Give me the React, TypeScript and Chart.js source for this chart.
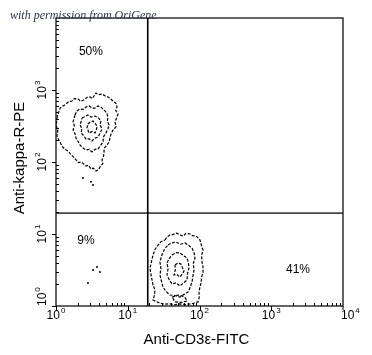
import React, { useEffect, useRef } from 'react';
import { Chart, registerables } from 'chart.js';

Chart.register(...registerables);

// ---- axis / tick data ----
const AXIS_MIN = 1;
const AXIS_MAX = 10000;
const X_DECADES = [1, 10, 100, 1000, 10000];
const X_EXPONENTS = ['0', '1', '2', '3', '4'];
const Y_DECADES = [1, 10, 100, 1000];
const Y_EXPONENTS = ['0', '1', '2', '3'];
const X_TITLE = 'Anti-CD3ε-FITC';
const Y_TITLE = 'Anti-kappa-R-PE';
const WATERMARK = 'with permission from OriGene';

// ---- quadrant gates ----
const GATE_X = 19;
const GATE_Y = 19.5;
const QUADRANT_LABELS = ['50%', '9%', '41%'];
const QUADRANT_LABEL_X = [3.07, 2.62, 2360];
const QUADRANT_LABEL_Y = [3370, 8.0, 3.16];

// ---- contour rings (x, y) in fluorescence units ----
// upper-left population (kappa+ / CD3-)
const UL_RING_1: [number, number][] = [
  [1.03, 408], [1.08, 480], [1.14, 562], [1.25, 600], [1.38, 639], [1.5, 690], [1.67, 703],
  [1.8, 760], [2.03, 750], [2.2, 700], [2.46, 726], [2.7, 790], [2.98, 800], [3.2, 760],
  [3.61, 908], [3.9, 860], [4.38, 880], [4.8, 830], [5.31, 800], [5.7, 760], [6.23, 703],
  [6.9, 650], [7.08, 580], [6.8, 520], [7.31, 464], [7.0, 410], [6.64, 360], [6.9, 310],
  [6.23, 278], [5.9, 250], [5.66, 222], [5.5, 190], [5.14, 172], [4.7, 155], [4.67, 138],
  [4.6, 120], [4.38, 107], [4.5, 95], [4.1, 85], [3.9, 78], [3.61, 75], [3.3, 82], [3.07, 80],
  [2.85, 90], [2.62, 88], [2.4, 95], [2.23, 100], [2.05, 98], [1.9, 107], [1.75, 118],
  [1.62, 125], [1.5, 140], [1.38, 147], [1.25, 160], [1.17, 178], [1.1, 200], [1.03, 230],
  [1.06, 270], [1.01, 320],
];
const UL_RING_2: [number, number][] = [
  [1.84, 449], [1.95, 510], [2.16, 545], [2.4, 540], [2.62, 580], [2.9, 600], [3.17, 562],
  [3.5, 560], [3.85, 600], [4.3, 570], [4.67, 527], [5.1, 480], [5.31, 422], [5.2, 370],
  [5.48, 327], [5.3, 290], [4.97, 253], [4.6, 225], [4.52, 190], [4.2, 170], [3.85, 152],
  [3.5, 150], [3.17, 138], [2.9, 150], [2.62, 147], [2.4, 155], [2.16, 172], [2.05, 190],
  [1.9, 215], [1.85, 245], [1.73, 278], [1.8, 320], [1.73, 360], [1.78, 400],
];
const UL_RING_3: [number, number][] = [
  [2.3, 408], [2.55, 430], [2.79, 449], [3.1, 420], [3.5, 435], [3.9, 410], [4.24, 371],
  [4.1, 330], [4.38, 287], [4.1, 250], [3.85, 222], [3.5, 215], [3.17, 196], [2.9, 210],
  [2.62, 208], [2.45, 230], [2.23, 253], [2.3, 290], [2.16, 327], [2.25, 370],
];
const UL_RING_4: [number, number][] = [
  [2.79, 337], [3.0, 360], [3.28, 371], [3.5, 345], [3.73, 316], [3.65, 280], [3.5, 253],
  [3.2, 265], [2.88, 253], [2.8, 275], [2.7, 297],
];

// lower-right population (CD3+ / kappa-)
const LR_RING_1: [number, number][] = [
  [33.0, 8.25], [35.5, 9.2], [38.8, 9.68], [43, 9.9], [48.6, 10.3], [53, 9.7], [58.9, 9.38],
  [65, 10.2], [73.8, 10.0], [80, 9.5], [89.4, 9.38], [95, 8.9], [101.6, 8.25], [106, 7.0],
  [111.9, 5.99], [107, 5.0], [108.4, 4.08], [112, 3.5], [111.9, 2.97], [107, 2.5], [105, 2.09],
  [101, 1.8], [98.4, 1.52], [99, 1.3], [95.3, 1.14], [85, 1.1], [73.8, 1.07], [63, 1.05],
  [53.5, 1.07], [45, 1.04], [38.8, 1.07], [32, 1.06], [28.1, 1.1], [25, 1.15], [22.5, 1.21],
  [23.5, 1.4], [24.0, 1.67], [22.5, 1.95], [21.8, 2.3], [21, 2.8], [20.4, 3.37], [21.5, 4.2],
  [22.5, 5.11], [24, 6.1], [26.4, 7.03], [29, 7.8],
];
const LR_RING_2: [number, number][] = [
  [36.4, 7.03], [41, 7.5], [47.0, 7.74], [54, 7.2], [62.8, 7.5], [70, 7.0], [78.6, 6.39],
  [84, 5.5], [86.5, 4.64], [82, 3.9], [83.8, 3.16], [81, 2.6], [78.6, 2.15], [74, 1.8],
  [69.2, 1.56], [61, 1.45], [53.5, 1.33], [45, 1.4], [38.8, 1.42], [34, 1.6], [31.0, 1.84],
  [29.5, 2.2], [28.1, 2.7], [29, 3.3], [28.1, 4.08], [29.5, 4.9], [31.0, 5.62], [33.5, 6.4],
];
const LR_RING_3: [number, number][] = [
  [41.4, 5.11], [47, 5.5], [53.5, 5.45], [60, 5.0], [67.0, 4.64], [70, 4.0], [71.4, 3.37],
  [68, 2.8], [67.0, 2.3], [60, 2.1], [53.5, 1.9], [47, 2.1], [41.4, 2.02], [38, 2.3],
  [35.2, 2.7], [36.5, 3.3], [35.2, 3.96], [38, 4.6],
];
const LR_RING_4: [number, number][] = [
  [45.6, 3.71], [50, 3.95], [55.2, 3.83], [58, 3.4], [60.8, 3.06], [57, 2.75], [53.5, 2.53],
  [48, 2.75], [44.2, 2.7], [46, 3.2],
];
const LR_RING_5: [number, number][] = [
  [41.4, 1.33], [50, 1.42], [57.0, 1.38], [63, 1.3], [67.0, 1.17], [55, 1.12], [45.6, 1.14],
];

// isolated events
const EVENTS_X = [2.38, 3.07, 3.28, 3.28, 3.73, 4.1, 2.79];
const EVENTS_Y = [60, 53, 48, 3.16, 3.48, 2.97, 2.09];

const RINGS = [UL_RING_1, UL_RING_2, UL_RING_3, UL_RING_4, LR_RING_1, LR_RING_2, LR_RING_3, LR_RING_4, LR_RING_5];

const SANS = '"Liberation Sans", Arial, Helvetica, sans-serif';

function drawPower(ctx: CanvasRenderingContext2D, exp: string, cx: number, cy: number, rotate: boolean, align: 'center' | 'start' | 'end') {
  ctx.save();
  ctx.translate(cx, cy);
  if (rotate) ctx.rotate(-Math.PI / 2);
  ctx.font = `12px ${SANS}`;
  const w1 = ctx.measureText('10').width;
  ctx.font = `8px ${SANS}`;
  const w2 = ctx.measureText(exp).width;
  const total = w1 + 1 + w2;
  let sx = -total / 2;
  if (align === 'start') sx = -2;
  if (align === 'end') sx = 0;
  ctx.fillStyle = '#000';
  ctx.textAlign = 'left';
  ctx.textBaseline = 'middle';
  ctx.font = `12px ${SANS}`;
  ctx.fillText('10', sx, 0);
  ctx.font = `8px ${SANS}`;
  ctx.fillText(exp, sx + w1 + 1, -5);
  ctx.restore();
}

const decorPlugin = {
  id: 'decor',
  afterDatasetsDraw(chart: any) {
    const { ctx, chartArea: a, scales } = chart;
    const xs = scales.x;
    const ys = scales.y;
    ctx.save();
    // frame
    ctx.strokeStyle = '#111';
    ctx.lineWidth = 1.3;
    ctx.strokeRect(a.left, a.top, a.right - a.left, a.bottom - a.top);

    // ticks
    ctx.lineWidth = 1;
    ctx.strokeStyle = '#000';
    for (let d = 1; d < AXIS_MAX; d *= 10) {
      for (let m = 1; m <= 9; m++) {
        const v = d * m;
        const px = Math.round(xs.getPixelForValue(v)) + 0.5;
        const py = Math.round(ys.getPixelForValue(v)) + 0.5;
        ctx.beginPath();
        if (m === 1) {
          ctx.moveTo(px, a.bottom); ctx.lineTo(px, a.bottom + 4);
          ctx.moveTo(a.left, py); ctx.lineTo(a.left - 4, py);
        } else {
          ctx.moveTo(px, a.bottom); ctx.lineTo(px, a.bottom - 3);
          ctx.moveTo(a.left, py); ctx.lineTo(a.left + 3, py);
        }
        ctx.stroke();
      }
    }
    ctx.beginPath();
    ctx.moveTo(a.right, a.bottom); ctx.lineTo(a.right, a.bottom + 4);
    ctx.stroke();

    // tick labels
    X_DECADES.forEach((v, i) => {
      const px = xs.getPixelForValue(v);
      drawPower(ctx, X_EXPONENTS[i], px, a.bottom + 10, false, i === X_DECADES.length - 1 ? 'start' : 'center');
    });
    Y_DECADES.forEach((v, i) => {
      const py = ys.getPixelForValue(v);
      drawPower(ctx, Y_EXPONENTS[i], a.left - 13, py, true, i === 0 ? 'end' : 'center');
    });

    // axis titles
    ctx.fillStyle = '#000';
    ctx.font = `15px ${SANS}`;
    ctx.textAlign = 'center';
    ctx.textBaseline = 'middle';
    ctx.fillText(X_TITLE, (a.left + a.right) / 2 - 3, a.bottom + 34);
    ctx.save();
    ctx.translate(20, (a.top + a.bottom) / 2 - 4);
    ctx.rotate(-Math.PI / 2);
    ctx.fillText(Y_TITLE, 0, 0);
    ctx.restore();

    // quadrant labels
    ctx.font = `12px ${SANS}`;
    QUADRANT_LABELS.forEach((t, i) => {
      ctx.fillText(t, xs.getPixelForValue(QUADRANT_LABEL_X[i]), ys.getPixelForValue(QUADRANT_LABEL_Y[i]));
    });

    // watermark
    ctx.font = `italic 12px "Liberation Serif", "DejaVu Serif", serif`;
    ctx.fillStyle = '#2c3550';
    ctx.textAlign = 'left';
    ctx.textBaseline = 'alphabetic';
    ctx.fillText(WATERMARK, 10, 19);
    ctx.restore();
  },
};

export default function App() {
  const ref = useRef<HTMLCanvasElement | null>(null);
  useEffect(() => {
    document.body.style.margin = '0';
    if (!ref.current) return;
    const ringSets = RINGS.map((ring) => ({
      data: [...ring, ring[0]].map(([x, y]) => ({ x, y })),
      showLine: true,
      borderColor: '#000',
      borderWidth: 1.2,
      borderDash: [3, 1.5],
      pointRadius: 0,
      fill: false,
      tension: 0,
    }));
    const gateSets = [
      {
        data: [{ x: GATE_X, y: AXIS_MIN }, { x: GATE_X, y: AXIS_MAX }],
        showLine: true, borderColor: '#000', borderWidth: 1.6, pointRadius: 0,
      },
      {
        data: [{ x: AXIS_MIN, y: GATE_Y }, { x: AXIS_MAX, y: GATE_Y }],
        showLine: true, borderColor: '#444', borderWidth: 1.6, pointRadius: 0,
      },
    ];
    const eventSet = {
      data: EVENTS_X.map((x, i) => ({ x, y: EVENTS_Y[i] })),
      showLine: false,
      pointRadius: 1,
      pointBackgroundColor: '#000',
      pointBorderWidth: 0,
    };
    const chart = new Chart(ref.current, {
      type: 'scatter',
      data: { datasets: [...ringSets, ...gateSets, eventSet] as any },
      options: {
        responsive: false,
        animation: false,
        layout: { padding: { left: 56, right: 29, top: 18, bottom: 49 } },
        plugins: { legend: { display: false }, tooltip: { enabled: false } },
        scales: {
          x: { type: 'logarithmic', min: AXIS_MIN, max: AXIS_MAX, display: false },
          y: { type: 'logarithmic', min: AXIS_MIN, max: AXIS_MAX, display: false },
        },
      },
      plugins: [decorPlugin],
    });
    return () => chart.destroy();
  }, []);
  return <canvas ref={ref} width={372} height={355} style={{ display: 'block' }} />;
}
